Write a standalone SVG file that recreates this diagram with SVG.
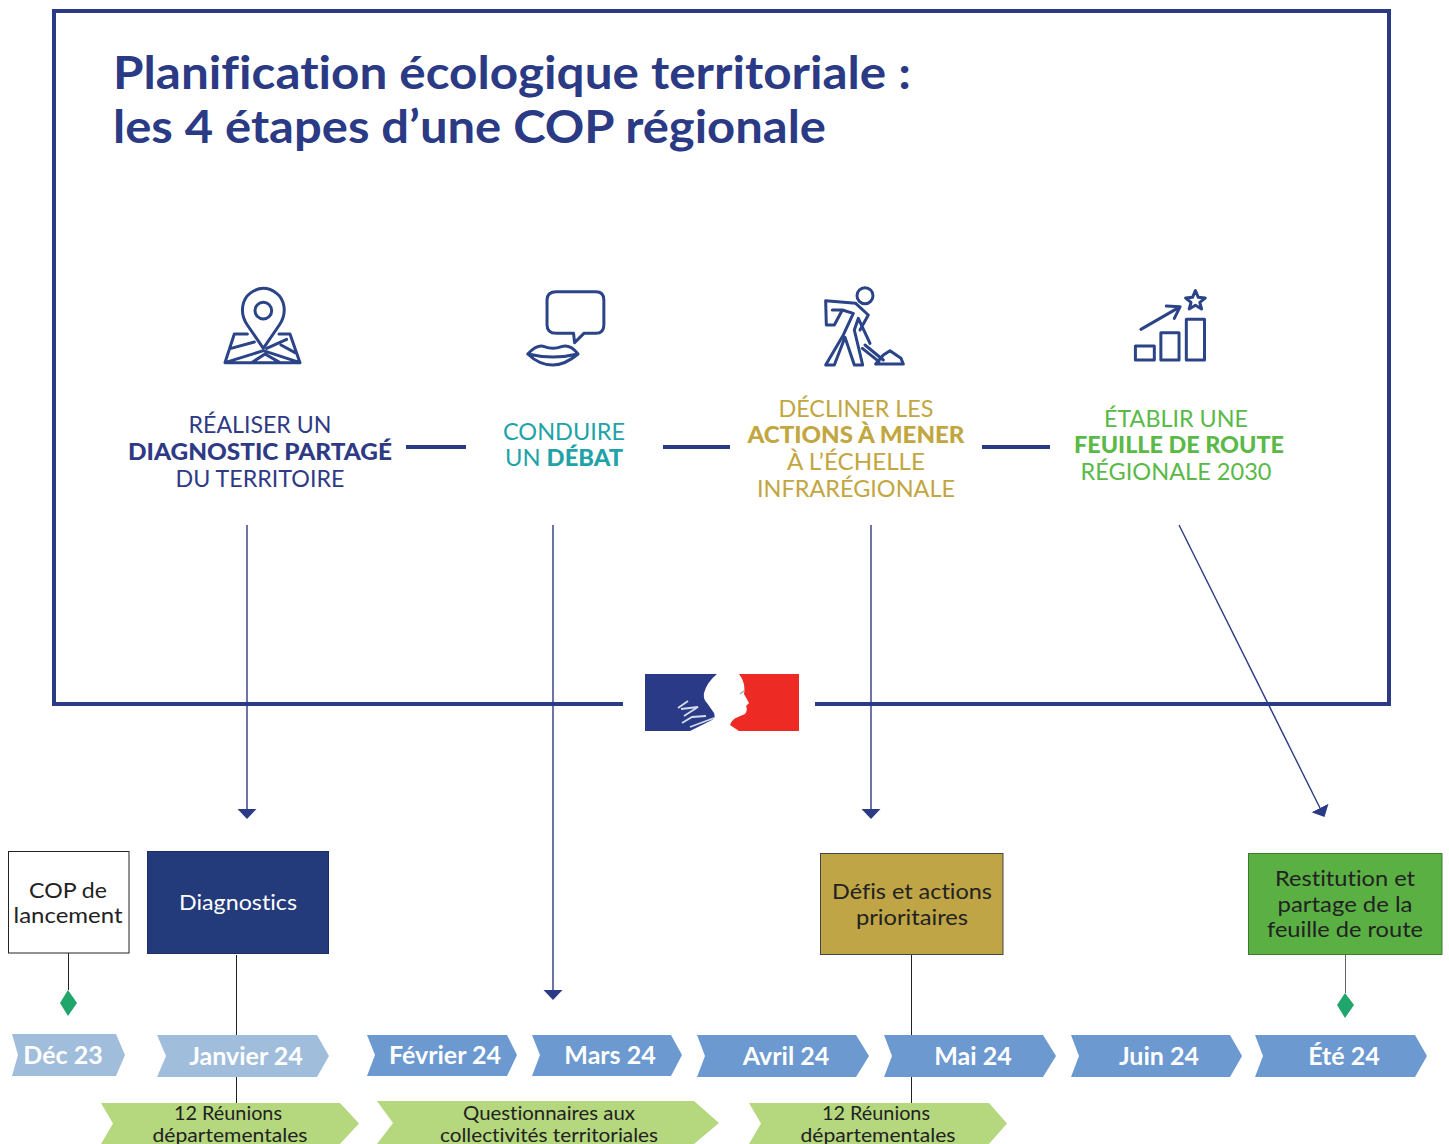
<svg xmlns="http://www.w3.org/2000/svg" width="1449" height="1144" viewBox="0 0 1449 1144">
<style>
text{font-family:"Lato","Liberation Sans",sans-serif;text-anchor:middle;font-variant-ligatures:none}
.title{font-size:46px;font-weight:700;fill:#2b3a85;text-anchor:start}
.step{font-size:23px;font-weight:400}
.b{font-weight:900}
.navy{fill:#2f3a85}.teal{fill:#1fa3a8}.gold{fill:#c2a640}.green{fill:#5ab947}
.ico{fill:none;stroke:#2b4488;stroke-width:3;stroke-linejoin:round;stroke-linecap:round}
.ico *{vector-effect:non-scaling-stroke}
.dash{stroke:#2b3a85;stroke-width:4;fill:none}
.arrow{stroke:#2b3a85;stroke-width:1.4;fill:none;marker-end:url(#ah)}
.link{stroke:#222;stroke-width:1;fill:none}
.box{font-size:22px;fill:#222}
.month{font-size:25px;font-weight:700;fill:#fff}
.light{fill:#a0bedb}.mid{fill:#6b99d0}
.lime{fill:#b5d77e}
.sub{font-size:20px;fill:#222}
.dia{fill:#20a56b}
</style>
<defs>
<marker id="ah" markerUnits="userSpaceOnUse" markerWidth="11" markerHeight="20" refX="0" refY="9.5" orient="auto"><path d="M0 0L10 9.5L0 19z" fill="#2b3a85"/></marker>
</defs>

<g id="frame">
<path d="M623 704H54V11H1389V704H815" fill="none" stroke="#2b3a85" stroke-width="4"/>
<text class="title" x="113" y="89" textLength="798" lengthAdjust="spacingAndGlyphs">Planification écologique territoriale :</text>
<text class="title" x="113" y="143" textLength="713" lengthAdjust="spacingAndGlyphs">les 4 étapes d’une COP régionale</text>
</g>

<g id="connectors">
<path class="dash" d="M406 447H466M663 447H730M982 447H1050"/>
<path class="link" d="M68.500 953V990M236.500 955V1103M911.500 955V1103"/>
<path class="link" stroke-opacity=".7" d="M1345.500 955V993"/>
<path class="arrow" d="M247 525V809"/>
<path class="arrow" d="M553 525V990"/>
<path class="arrow" d="M871 525V809"/>
<path class="arrow" d="M1179 525L1320 808"/>
</g>

<g id="step1">
<g class="ico" transform="translate(215 280) scale(.3333)">
<path d="M145 205L97 135C70 95 85 55 105 40C130 20 160 20 185 40C205 55 220 95 193 135Z"/>
<circle cx="145" cy="92" r="25"/>
<path d="M97 162H58L30 248H255L225 162H192M48 205L118 186M30 248L145 212L255 248M110 248L150 222L195 248M155 205L215 178M198 195L240 218"/>
</g>
<text class="step navy" x="260" y="433" textLength="143" lengthAdjust="spacingAndGlyphs">RÉALISER UN</text>
<text class="step navy b" x="260" y="460" textLength="264" lengthAdjust="spacingAndGlyphs">DIAGNOSTIC PARTAGÉ</text>
<text class="step navy" x="260" y="487" textLength="169" lengthAdjust="spacingAndGlyphs">DU TERRITOIRE</text>
</g>

<g id="step2">
<g class="ico" transform="translate(100 270) scale(.3444 .3333)">
<path d="M1325 65H1440Q1463 65 1463 90V165Q1463 190 1440 190H1405L1378 218L1375 190H1325Q1298 190 1298 165V90Q1298 65 1325 65Z"/>
<path d="M1242 252Q1270 222 1290 230Q1315 240 1340 230Q1365 222 1388 252Q1350 285 1315 285Q1275 285 1242 252ZM1242 252Q1315 270 1388 252"/>
</g>
<text class="step teal" x="564" y="440" textLength="122" lengthAdjust="spacingAndGlyphs">CONDUIRE</text>
<text class="step teal" x="564" y="466" textLength="118" lengthAdjust="spacingAndGlyphs">UN <tspan class="b">DÉBAT</tspan></text>
</g>

<g id="step3">
<g class="ico" transform="translate(815 280) scale(.3333)">
<circle cx="150" cy="47" r="24"/>
<path d="M122 70L32 62L34 135H58L82 90H52M82 90L115 100L85 165L32 255H58L90 172L118 255H143L118 150L130 115L165 190M122 70L160 105L135 150M150 195L205 240M142 205L192 245M182 252H265L258 235L225 212L205 225Z"/>
</g>
<text class="step gold" x="856" y="417" textLength="155" lengthAdjust="spacingAndGlyphs">DÉCLINER LES</text>
<text class="step gold b" x="856" y="443" textLength="217" lengthAdjust="spacingAndGlyphs">ACTIONS À MENER</text>
<text class="step gold" x="856" y="470" textLength="138" lengthAdjust="spacingAndGlyphs">À L’ÉCHELLE</text>
<text class="step gold" x="856" y="497" textLength="198" lengthAdjust="spacingAndGlyphs">INFRARÉGIONALE</text>
</g>

<g id="step4">
<g class="ico" transform="translate(730 270) scale(.3636 .3333)">
<rect x="1115" y="228" width="52" height="42"/>
<rect x="1185" y="188" width="50" height="82"/>
<rect x="1255" y="148" width="50" height="122"/>
<path d="M1130 178L1235 112M1200 108L1238 110L1222 145"/>
<path d="M1280 62L1288 82L1307 84L1292 97L1297 117L1280 106L1263 117L1268 97L1253 84L1272 82Z"/>
</g>
<text class="step green" x="1176" y="427" textLength="144" lengthAdjust="spacingAndGlyphs">ÉTABLIR UNE</text>
<text class="step green b" x="1179" y="453" textLength="210" lengthAdjust="spacingAndGlyphs">FEUILLE DE ROUTE</text>
<text class="step green" x="1176" y="480" textLength="191" lengthAdjust="spacingAndGlyphs">RÉGIONALE 2030</text>
</g>

<g id="logo">
<rect x="623" y="660" width="192" height="80" fill="#fff"/>
<path d="M645 674H717Q707 682 704 693Q703 699 707 703L714 713Q716 718 712 720L690 731H645Z" fill="#2a3a86"/>
<path d="M739 674H799V731H739L730 725Q732 719 738 717L745 714Q748 710 746 706L749 703L744 694Q746 683 739 674Z" fill="#ee2a24"/>
<path d="M678 708L688 701M681 709L698 707L684 716M682 723L692 717L706 716M690 727L714 718" stroke="#d5dcec" stroke-width="1.800" fill="none"/>
<path d="M740 694L744 691" stroke="#9aa" stroke-width="1.500" fill="none"/>
</g>

<g id="cop"><rect x="8.500" y="851.500" width="120.500" height="101.500" fill="#fff" stroke="#222"/>
<text class="box" x="68" y="898" textLength="78" lengthAdjust="spacingAndGlyphs">COP de</text><text class="box" x="68" y="923" textLength="109" lengthAdjust="spacingAndGlyphs">lancement</text></g>
<g id="diagnostics"><rect x="147.500" y="851.500" width="181" height="102" fill="#233a7b" stroke="#1c2e66"/>
<text class="box" x="238" y="910" textLength="118" lengthAdjust="spacingAndGlyphs" style="fill:#fff">Diagnostics</text></g>
<g id="defis"><rect x="820.500" y="853.500" width="182.500" height="101" fill="#bfa545" stroke="#444"/>
<text class="box" x="912" y="899" textLength="160" lengthAdjust="spacingAndGlyphs">Défis et actions</text><text class="box" x="912" y="925" textLength="112" lengthAdjust="spacingAndGlyphs">prioritaires</text></g>
<g id="restitution"><rect x="1248.500" y="853.500" width="193.500" height="101" fill="#5bb044" stroke="#3d7c2e"/>
<text class="box" x="1345" y="886" textLength="140" lengthAdjust="spacingAndGlyphs">Restitution et</text><text class="box" x="1345" y="912" textLength="135" lengthAdjust="spacingAndGlyphs">partage de la</text><text class="box" x="1345" y="937" textLength="156" lengthAdjust="spacingAndGlyphs">feuille de route</text></g>

<g id="jalon1"><path class="dia" d="M68 990L77 1003L68 1016L60 1003Z"/></g>
<g id="jalon2"><path class="dia" d="M1345 993L1354 1005L1345 1018L1337 1005Z"/></g>

<g id="dec23"><path class="light" d="M12 1034H116L125 1055L116 1076H12L18 1055Z"/><text class="month" x="63" y="1064">Déc 23</text></g>
<g id="janvier24"><path class="light" d="M157 1035H317L329 1056L317 1077H157L166 1056Z"/><text class="month" x="246" y="1065">Janvier 24</text></g>
<g id="fevrier24"><path class="mid" d="M367 1035H507L517 1055L507 1076H367L375 1055Z"/><text class="month" x="445" y="1064">Février 24</text></g>
<g id="mars24"><path class="mid" d="M532 1035H671L682 1055L671 1076H532L540 1055Z"/><text class="month" x="610" y="1064">Mars 24</text></g>
<g id="avril24"><path class="mid" d="M697 1035H856L869 1056L856 1077H697L705 1056Z"/><text class="month" x="786" y="1065">Avril 24</text></g>
<g id="mai24"><path class="mid" d="M884 1035H1043L1056 1056L1043 1077H884L892 1056Z"/><text class="month" x="973" y="1065">Mai 24</text></g>
<g id="juin24"><path class="mid" d="M1071 1035H1230L1242 1056L1230 1077H1071L1079 1056Z"/><text class="month" x="1159" y="1065">Juin 24</text></g>
<g id="ete24"><path class="mid" d="M1255 1035H1415L1427 1056L1415 1077H1255L1263 1056Z"/><text class="month" x="1344" y="1065">Été 24</text></g>

<g id="reunions1"><path class="lime" d="M101 1103H340L359 1123.500L340 1144H101L113 1123.500Z"/>
<text class="sub" x="228" y="1120" textLength="108" lengthAdjust="spacingAndGlyphs">12 Réunions</text><text class="sub" x="230" y="1142" textLength="155" lengthAdjust="spacingAndGlyphs">départementales</text></g>
<g id="questionnaires"><path class="lime" d="M377 1101H694L719 1123L694 1144H377L393 1123Z"/>
<text class="sub" x="549" y="1120" textLength="172" lengthAdjust="spacingAndGlyphs">Questionnaires aux</text><text class="sub" x="549" y="1142" textLength="218" lengthAdjust="spacingAndGlyphs">collectivités territoriales</text></g>
<g id="reunions2"><path class="lime" d="M749 1103H989L1007 1123.500L989 1144H749L761 1123.500Z"/>
<text class="sub" x="876" y="1120" textLength="108" lengthAdjust="spacingAndGlyphs">12 Réunions</text><text class="sub" x="878" y="1142" textLength="155" lengthAdjust="spacingAndGlyphs">départementales</text></g>
</svg>
